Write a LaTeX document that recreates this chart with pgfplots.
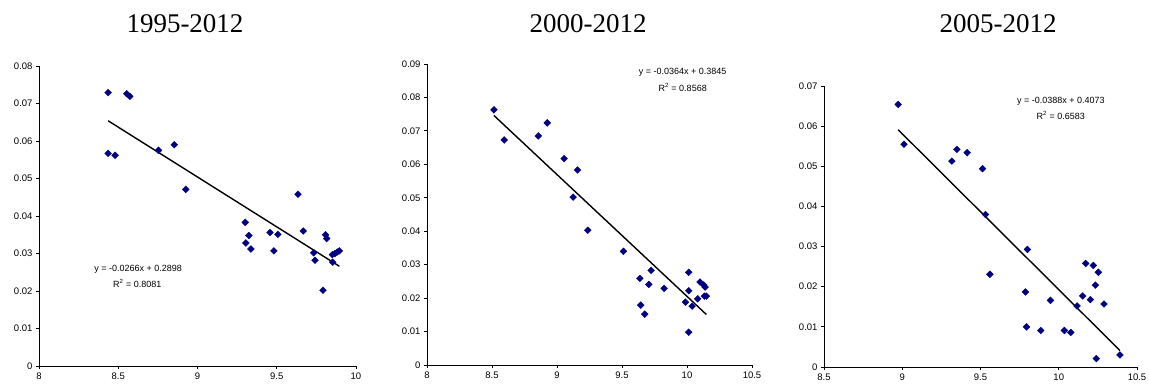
\documentclass[border=0pt]{standalone}
\usepackage{fontspec}
\setmainfont{Liberation Sans}
\newfontfamily\titlefont{Liberation Serif}
\usepackage{pgfplots}
\pgfplotsset{compat=1.18}
\definecolor{navy}{RGB}{0,0,128}
\tikzset{eqn/.style={font=\fontsize{9}{10}\selectfont, inner sep=0pt}}
\pgfplotsset{
  panel/.style={
    scale only axis,
    axis x line=bottom, axis y line=left,
    axis line style={-, black, line width=0.8pt},
    tick align=outside,
    major tick length=3pt,
    tick style={black, line width=0.8pt},
    ymin=0,
    /pgf/number format/assume math mode=true,
    tick label style={font=\fontsize{9.5}{11}\selectfont},
    yticklabel style={/pgf/number format/fixed, /pgf/number format/precision=2},
    xticklabel style={/pgf/number format/fixed},
    scaled ticks=false,
    clip=false,
  },
  pts/.style={only marks, mark=square*, mark size=2.4pt, color=navy, mark options={rotate=45, fill=navy, draw=navy}},
  trend/.style={no marks, black, line width=1.4pt},
}
\begin{document}
\begin{tikzpicture}[x=1pt,y=1pt]
\useasboundingbox (0,0) rectangle (1149,-389);
\node[anchor=base, font=\titlefont\fontsize{27}{30}\selectfont] at (185,-32) {1995-2012};
\node[anchor=base, font=\titlefont\fontsize{27}{30}\selectfont] at (588,-32) {2000-2012};
\node[anchor=base, font=\titlefont\fontsize{27}{30}\selectfont] at (998,-32) {2005-2012};

% Panel 1
\begin{axis}[panel, at={(39pt,-366pt)}, anchor=south west, width=317pt, height=300pt,
  xmin=8, xmax=10, ymax=0.08, xtick={8,8.5,9,9.5,10}, ytick={0,0.01,...,0.08}]
\addplot[pts] coordinates {
(8.436,0.0729) (8.554,0.0726) (8.573,0.0719) (8.436,0.0567) (8.480,0.0562)
(8.754,0.0575) (8.853,0.0590) (8.926,0.0471) (9.301,0.0383) (9.305,0.0328)
(9.324,0.0348) (9.337,0.0312) (9.457,0.0356) (9.482,0.0307) (9.507,0.0351)
(9.634,0.0458) (9.667,0.0360) (9.733,0.0302) (9.741,0.0282) (9.792,0.0202)
(9.808,0.0350) (9.815,0.0340) (9.851,0.0297) (9.853,0.0277) (9.867,0.0300)
(9.882,0.0304) (9.895,0.0307)
};
\addplot[trend] coordinates {(8.436,0.0654) (9.895,0.0266)};
\node[eqn] at (axis cs:8.625,0.0258) {y = -0.0266x + 0.2898};
\node[eqn] at (axis cs:8.62,0.0220) {R\textsuperscript{2} = 0.8081};
\end{axis}

% Panel 2
\begin{axis}[panel, at={(427pt,-365pt)}, anchor=south west, width=325pt, height=301pt,
  xmin=8, xmax=10.5, ymax=0.09, xtick={8,8.5,9,9.5,10,10.5}, ytick={0,0.01,...,0.09}]
\addplot[pts] coordinates {
(8.515,0.0763) (8.594,0.0673) (8.856,0.0685) (8.925,0.0724) (9.055,0.0617)
(9.124,0.0502) (9.158,0.0583) (9.237,0.0403) (9.511,0.0340) (9.637,0.0259)
(9.644,0.0179) (9.675,0.0152) (9.706,0.0241) (9.724,0.0283) (9.824,0.0229)
(9.988,0.0188) (10.013,0.0277) (10.013,0.0222) (10.013,0.0098) (10.039,0.0176)
(10.082,0.0198) (10.100,0.0248) (10.129,0.0239) (10.134,0.0206) (10.139,0.0233)
(10.149,0.0206)
};
\addplot[trend] coordinates {(8.515,0.0746) (10.149,0.0151)};
\node[eqn] at (axis cs:9.967,0.0875) {y = -0.0364x + 0.3845};
\node[eqn] at (axis cs:9.967,0.0831) {R\textsuperscript{2} = 0.8568};
\end{axis}

% Panel 3
\begin{axis}[panel, at={(824pt,-367pt)}, anchor=south west, width=313pt, height=281pt,
  xmin=8.5, xmax=10.5, ymax=0.07, xtick={8.5,9,9.5,10,10.5}, ytick={0,0.01,...,0.07}]
\addplot[pts] coordinates {
(8.974,0.0654) (9.011,0.0555) (9.317,0.0513) (9.349,0.0542) (9.415,0.0534)
(9.513,0.0494) (9.532,0.0380) (9.560,0.0231) (9.787,0.0187) (9.794,0.0100)
(9.800,0.0293) (9.885,0.0091) (9.947,0.0166) (10.036,0.0091) (10.077,0.0086)
(10.117,0.0152) (10.153,0.0177) (10.172,0.0258) (10.202,0.0168) (10.221,0.0253)
(10.234,0.0204) (10.240,0.0021) (10.253,0.0236) (10.289,0.0157) (10.391,0.0030)
};
\addplot[trend] coordinates {(8.974,0.0591) (10.391,0.0041)};
\node[eqn] at (axis cs:10.013,0.0663) {y = -0.0388x + 0.4073};
\node[eqn] at (axis cs:10.013,0.0626) {R\textsuperscript{2} = 0.6583};
\end{axis}
\end{tikzpicture}
\end{document}
